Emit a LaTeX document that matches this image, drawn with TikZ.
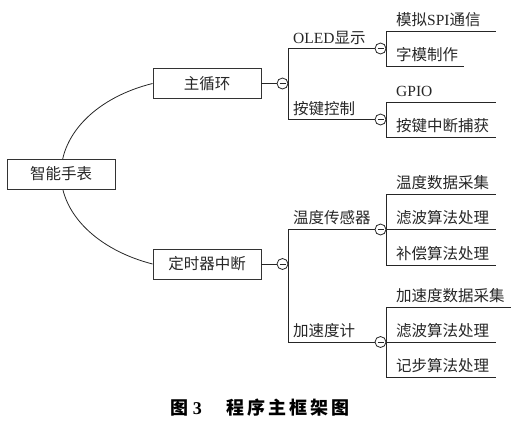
\documentclass[tikz,border=0pt]{standalone}
\usepackage{fontspec}
\setmainfont{Noto Sans CJK SC}
\newfontfamily\lat{Liberation Serif}
\usetikzlibrary{backgrounds}

\begin{document}
\begin{tikzpicture}[x=1pt, y=-1pt,
    box/.style={draw=black!80, line width=0.9pt, fill=white, minimum width=108pt,
      minimum height=30pt, inner sep=0pt, text=black!85, font=\fontsize{15.5}{18}\selectfont},
    fold/.style={circle, draw=black!85, line width=0.8pt, fill=white, inner sep=0pt,
      minimum size=11pt, path picture={\draw [line width=0.8pt]
        ([xshift=-3pt]path picture bounding box.center) -- ([xshift=3pt]path picture bounding box.center);}},
    branch/.style={line width=0.8pt, draw=black!85},
    lbl/.style={anchor=base west, inner sep=0pt, text=black!85, font=\fontsize{15.5}{18}\selectfont}]
      \useasboundingbox (0,0) rectangle (522,426);
      \node [box] (root) at (61,174) {智能手表};
      \node [box] (main) at (207,83.5) {主循环};
      \node [box] (timer) at (207,264) {定时器中断};
      \begin{scope}[on background layer]
        \draw [branch] (main.west) .. controls (97.6,97.1) and (61,133.1) .. (root.center)
          .. controls (61,213.9) and (97.6,249.9) .. (timer.west);
      \end{scope}
      \node [fold] (f0) at (282.5,83.5) {};
      \node [fold] (f1) at (380.5,48.5) {};
      \node [fold] (f2) at (380.5,119.5) {};
      \node [fold] (f3) at (282.5,264) {};
      \node [fold] (f4) at (380.5,229.5) {};
      \node [fold] (f5) at (380.5,342) {};
      \draw [branch] (main.east) -- (f0.west);
      \draw [branch] (timer.east) -- (f3.west);
      \draw [branch] (f0.east) |- (f1.west);
      \draw [branch] (f0.east) |- (f2.west);
      \draw [branch] (f3.east) |- (f4.west);
      \draw [branch] (f3.east) |- (f5.west);
      \coordinate (e11) at (496,31);
      \coordinate (e12) at (464,66);
      \coordinate (e21) at (496,102);
      \coordinate (e22) at (496,137);
      \coordinate (e41) at (496,194);
      \coordinate (e42) at (496,229.5);
      \coordinate (e43) at (496,265);
      \coordinate (e51) at (511,307);
      \coordinate (e52) at (496,342);
      \coordinate (e53) at (496,377);
      \draw [branch] (f1.east) |- (e11);
      \draw [branch] (f1.east) |- (e12);
      \draw [branch] (f2.east) |- (e21);
      \draw [branch] (f2.east) |- (e22);
      \draw [branch] (f4.east) |- (e41);
      \draw [branch] (f4.east) -- (e42);
      \draw [branch] (f4.east) |- (e43);
      \draw [branch] (f5.east) |- (e51);
      \draw [branch] (f5.east) -- (e52);
      \draw [branch] (f5.east) |- (e53);
      \node [lbl] (oled) at (293,43) {{\lat OLED}显示};
      \node [lbl] (key) at (293,114) {按键控制};
      \node [lbl] (temp) at (293,223) {温度传感器};
      \node [lbl] (acc) at (293,336) {加速度计};
      \node [lbl] (spi) at (396,25) {模拟{\lat SPI}通信};
      \node [lbl] (glyph) at (396,60) {字模制作};
      \node [lbl] (gpio) at (396,96) {\lat GPIO};
      \node [lbl] (irq) at (396,131) {按键中断捕获};
      \node [lbl] (tcol) at (396,188) {温度数据采集};
      \node [lbl] (tflt) at (396,223.5) {滤波算法处理};
      \node [lbl] (tcmp) at (396,259) {补偿算法处理};
      \node [lbl] (acol) at (396,301) {加速度数据采集};
      \node [lbl] (aflt) at (396,336) {滤波算法处理};
      \node [lbl] (pace) at (396,371) {记步算法处理};
      \node [font=\fontsize{18}{20}\selectfont\bfseries] (cap) at (260,408)
        {图\kern4.5pt{\lat 3}\hspace{25pt}程\kern3pt 序\kern3pt 主\kern3pt 框\kern3pt 架\kern3pt 图};
    \end{tikzpicture}
\end{document}
